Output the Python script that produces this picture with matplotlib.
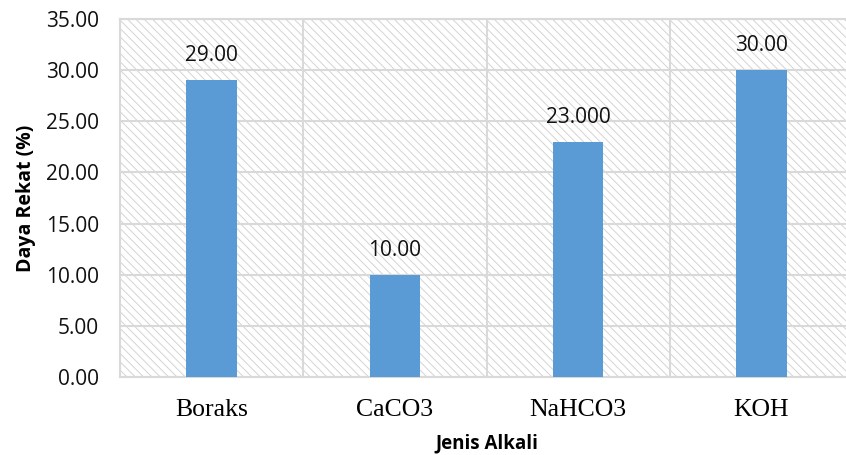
import matplotlib
matplotlib.use('Agg')
import matplotlib.pyplot as plt
from matplotlib.patches import Rectangle

# Daya rekat per jenis alkali
jenis = ['Boraks', 'CaCO3', 'NaHCO3', 'KOH']
daya_rekat = [29.0, 10.0, 23.0, 30.0]
label_nilai = ['29.00', '10.00', '23.000', '30.00']
y_ticks = [0, 5, 10, 15, 20, 25, 30, 35]

plt.rcParams['hatch.linewidth'] = 0.7
grid_col = '#d9d9d9'
hatch_col = '#d4d4d4'
bar_col = '#5b9bd5'
txt_col = '#111111'

fig = plt.figure(figsize=(8.46, 4.55), dpi=100)
ax = fig.add_axes([120/846, 78/455, 733/846, 358/455])

# latar belakang berarsir
bg = Rectangle((0, 0), 1, 1, transform=ax.transAxes, facecolor='white',
               edgecolor=hatch_col, hatch='\\\\\\\\', lw=0, zorder=0)
ax.add_patch(bg)

x = list(range(len(jenis)))
ax.bar(x, daya_rekat, width=0.275, color=bar_col, zorder=3)

for xi, v, s in zip(x, daya_rekat, label_nilai):
    ax.annotate(s, (xi, v), xytext=(0, 19), textcoords='offset pixels',
                ha='center', va='baseline', fontsize=15,
                family='Open Sans', color=txt_col, zorder=4)

ax.set_xlim(-0.5, len(jenis) - 0.5)
ax.set_ylim(0, 35)
ax.set_yticks(y_ticks)
ax.set_yticklabels(['%.2f' % t for t in y_ticks], family='Open Sans',
                   fontsize=15, color=txt_col)
ax.set_xticks(x)
ax.set_xticklabels(jenis, family='Liberation Serif', fontsize=18.5)
ax.tick_params(axis='both', length=0)
ax.tick_params(axis='y', pad=15)
ax.tick_params(axis='x', pad=16)

# garis grid
for t in y_ticks:
    ax.axhline(t, color=grid_col, lw=1.5, zorder=1)
for b in [i + 0.5 for i in x[:-1]]:
    ax.axvline(b, color=grid_col, lw=1.5, zorder=1)
for sp in ax.spines.values():
    sp.set_color(grid_col)
    sp.set_linewidth(1.5)

ax.set_ylabel('Daya Rekat (%)', family='Open Sans', fontweight='bold',
              fontsize=14, labelpad=7)
ax.set_xlabel('Jenis Alkali', family='Open Sans', fontweight='bold',
              fontsize=13.5, labelpad=9)

fig.savefig('out.png', dpi=100)
